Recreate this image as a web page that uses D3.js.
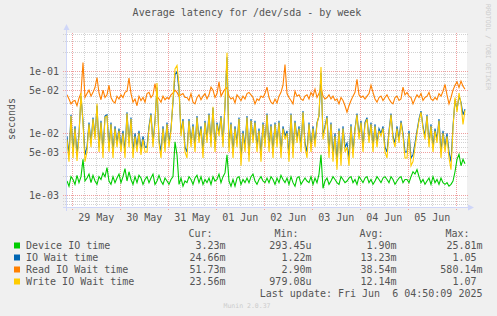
<!DOCTYPE html>
<html>
<head>
<meta charset="utf-8">
<title>Average latency for /dev/sda - by week</title>
<script src="https://cdn.jsdelivr.net/npm/d3@7"></script>
<style>
  body { margin: 0; background: #f0f0f0; }
  svg { display: block; font-family: "DejaVu Sans Mono", monospace; }
  text { fill: #555; }
</style>
</head>
<body>
<script>
// values in milliseconds, one sample per hour
var deviceMs = [
  1.7,1.4,2.0,1.8,1.5,2.1,1.6,2.0,3.8,1.7, 1.9,2.2,1.6,2.1,1.7,1.5,2.0,1.8,2.3,2.0,
  2.8,1.7,1.5,2.0,1.6,1.9,2.2,1.6,2.0,2.7, 1.7,2.4,1.8,1.5,2.0,1.6,2.1,1.9,1.5,1.8,
  2.0,1.6,1.9,2.2,1.5,1.7,2.1,1.7,1.5,1.9, 1.7,1.5,1.8,2.0,7.3,4.5,1.5,1.9,1.4,1.7,
  1.6,2.0,1.8,1.5,1.9,2.1,1.6,2.0,1.5,1.8, 1.6,1.9,1.5,2.0,1.7,1.8,2.2,1.6,2.0,2.3,
  4.5,1.7,1.4,1.8,1.4,1.9,2.0,1.5,1.8,1.6, 1.9,1.6,2.0,2.2,1.7,1.5,1.8,2.0,1.7,1.6,
  1.9,1.6,2.0,1.8,1.5,1.9,1.6,2.1,1.8,1.6, 1.9,1.5,2.0,1.6,1.4,1.9,2.0,1.5,1.7,1.9,
  1.7,1.6,2.0,1.5,1.9,1.6,2.2,4.5,1.3,1.7, 1.9,1.5,1.7,2.0,1.8,1.6,1.5,2.0,1.8,1.6,
  1.7,1.9,2.0,1.6,1.8,1.5,2.0,1.8,1.6,1.9, 2.0,1.6,1.8,1.5,1.7,2.0,1.8,1.6,1.9,2.0,
  1.8,1.6,2.0,1.8,1.5,1.7,1.9,2.0,1.6,1.8, 1.8,1.6,2.0,2.4,2.2,2.6,2.0,1.6,1.8,1.5,
  1.7,1.9,1.5,2.0,1.6,1.8,1.5,1.9,1.6,1.5, 1.6,1.4,1.5,1.7,2.4,3.8,4.6,3.0,3.8,3.23
];
var ioWaitMs = [
  9,4.5,20,5,13,4.5,10,40,16,4.5, 6,15,7,18,9,28,6,16,5,19,
  20,6,15,5,13,7,12,6,11,5, 22,7,18,5,10,6,11,5.5,9,6,
  6,13,21,7,16,55,8,5,13,6, 15,7,12,32,90,100,50,10,17,6,
  5,17,7,14,6,19,8,13,5,16, 8,21,7,26,6,15,10,19,7,28,
  170,6,15,5,13,7,18,4,11,6, 19,4.5,17,8,16,6,12,4.5,15,7,
  21,6,14,5,15,7,16,5,13,9, 11,4.5,21,5,16,8,13,6,23,7,
  5,15,6,13,7,15,19,95,9,13, 19,5,15,4.5,10,3.5,12,4,13,6,
  7,4,14,5,12,21,9,16,6,15, 18,8,15,6,14,7,12,10,13,6,
  5,11,21,9,7,13,8,16,10,5, 5,11,4,4.5,7,11,17,23,13,9,
  20,7,14,6,12,8,17,5,11,6, 10,5,3.5,13,35,24,40,32,20,24.66
];
var readMs = [
  42,36,30,33,34,28,37,45,140,38, 44,50,40,46,55,80,45,35,50,38,
  42,60,38,33,31,40,36,42,38,46, 48,78,44,32,36,28,40,34,38,32,
  44,46,38,42,64,40,36,32,40,35, 38,36,42,45,50,46,40,42,44,38,
  38,34,44,32,30,38,42,35,40,44, 36,42,56,50,38,44,68,40,46,52,
  55,40,36,38,31,42,38,34,40,36, 44,46,42,38,30,36,34,40,38,44,
  56,38,32,30,36,31,40,46,60,130, 44,38,34,30,48,40,42,36,34,40,
  42,36,46,40,52,38,44,55,40,36, 38,42,36,40,34,36,30,38,34,28,
  22,28,34,40,46,75,42,38,40,36, 40,44,60,46,36,32,38,40,34,38,
  42,36,32,30,38,40,34,36,56,42, 46,40,38,30,36,42,38,44,34,38,
  40,46,36,34,38,35,44,40,48,62, 42,30,38,50,60,68,55,70,58,51.73
];
var writeMs = [
  8,3.5,19,4,12,3.6,9,45,14,3.5, 5,14,6,17,8,30,5,15,4,18,
  19,5,14,4,12,6,11,5,10,4, 21,6,17,4,9,5,10,4.5,8,5,
  5,12,20,6,15,65,7,4,12,5, 14,6,11,35,110,125,60,9,16,5,
  4,16,6,13,5,18,7,12,4,15, 7,20,6,27,5,14,9,18,6,30,
  200,5,14,4,12,6,17,3,10,5, 18,3.5,16,7,15,5,11,3.5,14,6,
  20,5,13,4,14,6,15,4,12,8, 10,3.5,20,4,15,7,12,5,22,6,
  4,14,5,12,6,14,20,118,8,12, 18,4,14,3.5,9,2.6,11,3,12,5,
  6,3,13,4,11,20,8,15,5,14, 17,7,14,5,13,6,11,9,12,5,
  4,10,20,8,6,12,7,15,9,4, 4,10,3,3.5,6,10,16,22,12,8,
  19,6,13,5,11,7,16,4,10,5, 9,4,2.6,12,38,22,45,30,14,23.56
];

var seriesNames = ["Device IO time", "IO Wait time", "Read IO Wait time", "Write IO Wait time"];
var seriesColors = ["#00cc00", "#0066b3", "#ff8000", "#ffcc00"];
var curVals = ["3.23m", "24.66m", "51.73m", "23.56m"];
var minVals = ["293.45u", "1.22m", "2.90m", "979.08u"];
var avgVals = ["1.90m", "13.23m", "38.54m", "12.14m"];
var maxVals = ["25.81m", "1.05\u00a0", "580.14m", "1.07\u00a0"];

var yTicks = [1e-1, 5e-2, 1e-2, 5e-3, 1e-3];
var yTickLabels = ["1e-01", "5e-02", "1e-02", "5e-03", "1e-03"];
var dayLabels = ["29 May", "30 May", "31 May", "01 Jun", "02 Jun", "03 Jun", "04 Jun", "05 Jun"];

var w = 497, h = 316;
var plotL = 67, plotT = 33, pw = 400, ph = 175;
var start = Date.UTC(2025, 4, 28, 21, 20);
var hour = 3600 * 1000;

var svg = d3.select("body").append("svg")
    .attr("width", w)
    .attr("height", h);

svg.append("rect").attr("width", w).attr("height", h).attr("fill", "#f0f0f0");
svg.append("rect").attr("x", plotL).attr("y", plotT).attr("width", pw).attr("height", ph).attr("fill", "#fff");

var x = d3.scaleUtc()
    .domain([new Date(start), new Date(start + 200 * hour)])
    .range([plotL, plotL + pw]);
var y = d3.scaleLog()
    .domain([6.23e-4, 0.419])
    .range([plotT + ph, plotT]);

function px(v) { return Math.floor(v) + 0.5; }

// horizontal grid
var hgrid = [];
for (var e = -4; e <= -1; e++) {
    for (var m = 1; m <= 9; m++) {
	var v = m * Math.pow(10, e);
	if (v >= y.domain()[0] && v <= y.domain()[1]) hgrid.push({v: v, major: (m == 1 || m == 5)});
    }
}
svg.selectAll(".hg").data(hgrid).enter().append("line")
    .attr("x1", 63).attr("x2", plotL + pw + 1)
    .attr("y1", function(d){ return px(y(d.v)); })
    .attr("y2", function(d){ return px(y(d.v)); })
    .attr("stroke", function(d){ return d.major ? "#ee9f9f" : "#d2d2d2"; })
    .attr("stroke-dasharray", "1,1");

// vertical grid every 6 hours, red at midnight
var vgrid = d3.utcHour.every(6).range(new Date(start), new Date(start + 200 * hour));
svg.selectAll(".vg").data(vgrid).enter().append("line")
    .attr("x1", function(d){ return px(x(d)); })
    .attr("x2", function(d){ return px(x(d)); })
    .attr("y1", plotT)
    .attr("y2", function(d){ return d.getUTCHours() == 0 ? plotT + ph + 2 : plotT + ph; })
    .attr("stroke", function(d){ return d.getUTCHours() == 0 ? "#ee9f9f" : "#d2d2d2"; })
    .attr("stroke-dasharray", "1,1");

svg.append("clipPath").attr("id", "plotclip").append("rect")
    .attr("x", plotL).attr("y", plotT).attr("width", pw).attr("height", ph);

var line = d3.line()
    .x(function(d, i){ return x(new Date(start + i * hour)); })
    .y(function(d){ return y(d / 1000); });

var allSeries = [deviceMs, ioWaitMs, readMs, writeMs];
svg.append("g").attr("clip-path", "url(#plotclip)")
    .selectAll("path").data(allSeries).enter().append("path")
    .attr("d", line)
    .attr("fill", "none")
    .attr("stroke", function(d, i){ return seriesColors[i]; })
    .attr("stroke-width", 1.1);

// axes
var axisCol = "#cfd6f8";
svg.append("line").attr("x1", 63).attr("x2", 470).attr("y1", 207.5).attr("y2", 207.5).attr("stroke", axisCol);
svg.append("path").attr("d", "M468,204.5L474,207.5L468,210.5Z").attr("fill", axisCol);
svg.append("line").attr("x1", 66.5).attr("x2", 66.5).attr("y1", 211).attr("y2", 29).attr("stroke", axisCol);
svg.append("path").attr("d", "M63.5,30L66.5,24L69.5,30Z").attr("fill", axisCol);

// tick labels
svg.selectAll(".yl").data(yTicks).enter().append("text")
    .attr("x", 59)
    .attr("y", function(d){ return y(d) + 3.5; })
    .attr("text-anchor", "end")
    .style("font-size", "10px")
    .text(function(d, i){ return yTickLabels[i]; });

var noons = d3.utcDay.range(new Date(start), new Date(start + 200 * hour)).slice(0, dayLabels.length)
    .map(function(d){ return new Date(d.getTime() + 12 * hour); });
svg.selectAll(".xl").data(noons).enter().append("text")
    .attr("x", function(d){ return x(d); })
    .attr("y", 221)
    .attr("text-anchor", "middle")
    .style("font-size", "10px")
    .text(function(d, i){ return dayLabels[i]; });

// title and side texts
svg.append("text").attr("x", 247).attr("y", 16).attr("text-anchor", "middle")
    .style("font-size", "10px").text("Average latency for /dev/sda - by week");
svg.append("text").attr("transform", "translate(15,119) rotate(-90)").attr("text-anchor", "middle")
    .style("font-size", "10px").text("seconds");
svg.append("text").attr("transform", "translate(485.5,4) rotate(90)")
    .style("font-size", "6.5px").style("fill", "#cccccc").text("RRDTOOL / TOBI OETIKER");
svg.append("text").attr("x", 247).attr("y", 307.5).attr("text-anchor", "middle")
    .style("font-size", "6.5px").style("fill", "#cccccc").text("Munin 2.0.37");

// legend
var cols = [
    {head: "Cur:", hx: 212.5, vx: 225.5, vals: curVals},
    {head: "Min:", hx: 298.5, vx: 311.5, vals: minVals},
    {head: "Avg:", hx: 383.5, vx: 396.5, vals: avgVals},
    {head: "Max:", hx: 469.5, vx: 482.5, vals: maxVals}
];
cols.forEach(function(c){
    svg.append("text").attr("x", c.hx).attr("y", 236.5).attr("text-anchor", "end")
	.style("font-size", "10px").text(c.head);
});
var rows = svg.selectAll(".lg").data(seriesNames).enter().append("g")
    .attr("transform", function(d, i){ return "translate(0," + (249 + i * 12) + ")"; });
rows.append("rect").attr("x", 14).attr("y", -6.5).attr("width", 6).attr("height", 6)
    .attr("fill", function(d, i){ return seriesColors[i]; });
rows.append("text").attr("x", 26).attr("y", 0).style("font-size", "10px").text(function(d){ return d; });
cols.forEach(function(c){
    rows.append("text").attr("x", c.vx).attr("y", 0).attr("text-anchor", "end")
	.style("font-size", "10px").text(function(d, i){ return c.vals[i]; });
});
svg.append("text").attr("x", 482.5).attr("y", 297).attr("text-anchor", "end")
    .style("font-size", "10px").style("white-space", "pre")
    .text("Last update: Fri Jun  6 04:50:09 2025");
</script>
</body>
</html>
